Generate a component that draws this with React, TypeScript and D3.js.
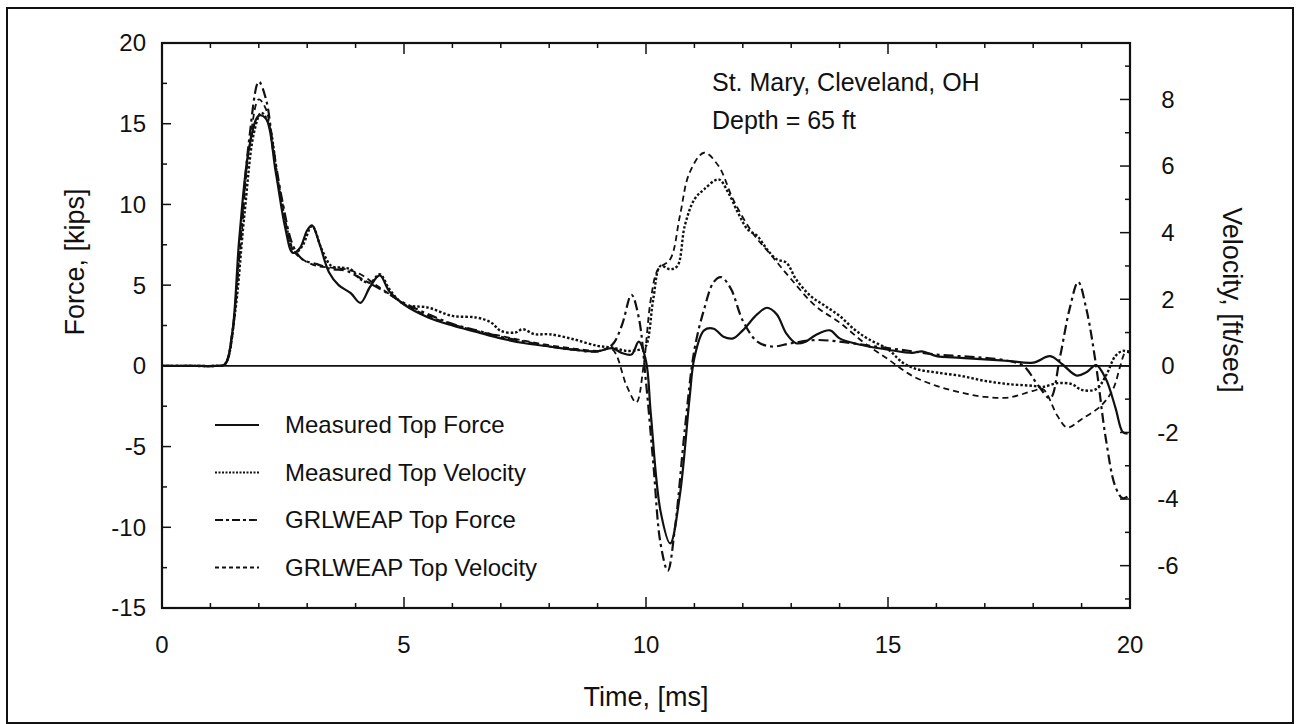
import React from "react";
import * as d3 from "d3";

// ---- data (time in ms; force in kips; velocity in ft/sec) ----
const timeTicks = [0, 5, 10, 15, 20];
const forceTicks = [-15, -10, -5, 0, 5, 10, 15, 20];
const velocityTicks = [-6, -4, -2, 0, 2, 4, 6, 8];

const measuredForce: [number, number][] = [
  [0, 0], [0.6, 0], [1.1, 0], [1.3, 0.1], [1.45, 2], [1.6, 8], [1.8, 13.5], [2.0, 15.5], [2.15, 15.3], [2.35, 12],
  [2.55, 8.5], [2.7, 7.0], [2.85, 7.3], [3.0, 8.4], [3.1, 8.7], [3.25, 7.6], [3.45, 5.8],
  [3.65, 5.0], [3.9, 4.5], [4.1, 3.9], [4.3, 4.9], [4.5, 5.6], [4.7, 4.6], [5.0, 3.8],
  [5.5, 3.0], [6.0, 2.5], [6.5, 2.1], [7.0, 1.7], [7.5, 1.4], [8.0, 1.2], [8.5, 1.0],
  [9.0, 0.9], [9.3, 1.1], [9.5, 0.8], [9.7, 0.7], [9.85, 1.5], [10.0, 0.3], [10.1, -3],
  [10.3, -9], [10.5, -11], [10.7, -8], [10.9, -2], [11.0, 0.5], [11.2, 2.2], [11.4, 2.3],
  [11.6, 1.8], [11.8, 1.7], [12.0, 2.2], [12.3, 3.2], [12.5, 3.6], [12.7, 3.2], [12.9, 2.0],
  [13.1, 1.4], [13.3, 1.5], [13.5, 1.9], [13.8, 2.2], [14.0, 1.7], [14.3, 1.4], [14.6, 1.2],
  [15.0, 1.0], [15.5, 0.8], [15.7, 0.9], [16.0, 0.6], [16.5, 0.5], [17.0, 0.4], [17.5, 0.3],
  [18.0, 0.2], [18.35, 0.6], [18.6, 0.1], [18.9, -0.6], [19.1, -0.4], [19.3, 0.05],
  [19.5, -0.8], [19.7, -2.6], [19.85, -4.1], [19.95, -4.2],
];

const grlweapForce: [number, number][] = [
  [0, 0], [0.6, 0], [1.1, 0], [1.3, 0.1], [1.45, 2], [1.6, 7], [1.8, 14], [2.0, 17.6], [2.15, 16.5], [2.3, 13.5],
  [2.5, 10], [2.7, 7.5], [2.9, 6.6], [3.2, 6.3], [3.5, 6.0], [3.8, 5.9], [4.0, 5.6],
  [4.3, 5.1], [4.6, 4.6], [5.0, 3.9], [5.5, 3.2], [6.0, 2.6], [6.5, 2.2], [7.0, 1.8],
  [7.5, 1.5], [8.0, 1.2], [8.5, 1.0], [9.0, 0.9], [9.3, 1.3], [9.5, 2.5], [9.7, 4.4],
  [9.85, 3.0], [10.0, -1], [10.15, -6], [10.3, -11], [10.45, -12.7], [10.6, -10],
  [10.8, -4], [11.0, 1.0], [11.2, 3.5], [11.4, 5.2], [11.55, 5.5], [11.75, 4.8], [12.0, 2.8],
  [12.3, 1.5], [12.6, 1.2], [13.0, 1.4], [13.5, 1.6], [14.0, 1.5], [14.5, 1.3], [15.0, 1.1],
  [15.5, 0.9], [16.0, 0.7], [16.5, 0.6], [17.0, 0.5], [17.5, 0.3], [17.8, 0], [18.1, -1.2],
  [18.35, -2.0], [18.55, 0.5], [18.75, 3.5], [18.93, 5.2], [19.1, 3.5], [19.3, 0],
  [19.5, -4.5], [19.7, -7.5], [19.85, -8.2], [20.0, -8.0],
];

const measuredVelocity: [number, number][] = [
  [0, 0], [0.6, 0], [1.1, 0], [1.3, 0.05], [1.5, 1.5], [1.7, 4.5], [1.9, 7.0], [2.05, 7.6], [2.2, 7.3], [2.4, 5.5],
  [2.6, 4.0], [2.75, 3.4], [2.9, 3.6], [3.1, 4.2], [3.3, 3.5], [3.5, 3.0], [3.7, 2.95],
  [3.9, 2.9], [4.1, 2.6], [4.3, 2.5], [4.5, 2.75], [4.7, 2.3], [5.0, 1.85], [5.5, 1.75],
  [6.0, 1.5], [6.5, 1.45], [6.8, 1.3], [7.0, 1.05], [7.3, 1.0], [7.45, 1.1], [7.7, 0.95],
  [8.0, 0.95], [8.5, 0.8], [9.0, 0.6], [9.3, 0.55], [9.6, 0.45], [9.9, 0.5], [10.0, 0.6],
  [10.15, 2.0], [10.3, 3.0], [10.5, 2.9], [10.65, 3.0], [10.8, 4.2], [11.0, 5.0], [11.2, 5.3],
  [11.5, 5.6], [11.7, 5.2], [11.9, 4.6], [12.1, 4.1], [12.3, 3.9], [12.5, 3.5], [12.7, 3.2],
  [12.9, 3.1], [13.1, 2.6], [13.4, 2.1], [13.7, 1.8], [14.0, 1.5], [14.3, 1.1], [14.6, 0.8],
  [15.0, 0.5], [15.3, 0.1], [15.6, -0.1], [16.0, -0.2], [16.5, -0.3], [17.0, -0.45],
  [17.5, -0.55], [18.0, -0.6], [18.2, -0.63], [18.5, -0.52], [18.8, -0.55], [19.0, -0.72],
  [19.3, -0.7], [19.5, -0.3], [19.7, 0.3], [19.85, 0.45], [20.0, 0.4],
];

const grlweapVelocity: [number, number][] = [
  [0, 0], [0.6, 0], [1.1, 0], [1.3, 0.05], [1.6, 3.3], [1.8, 6.5], [2.0, 8.0], [2.15, 7.7], [2.3, 6.4], [2.5, 4.8],
  [2.7, 3.5], [2.9, 3.2], [3.2, 3.0], [3.5, 2.95], [3.8, 2.9], [4.1, 2.75], [4.4, 2.45],
  [4.7, 2.15], [5.0, 1.85], [5.5, 1.5], [6.0, 1.25], [6.5, 1.05], [7.0, 0.9], [7.5, 0.75],
  [8.0, 0.62], [8.5, 0.52], [9.0, 0.45], [9.3, 0.5], [9.6, -0.6], [9.8, -1.1], [9.95, 0],
  [10.1, 2.0], [10.25, 2.9], [10.5, 3.2], [10.7, 4.5], [10.9, 5.8], [11.2, 6.4], [11.5, 6.0],
  [11.8, 5.0], [12.2, 4.0], [12.6, 3.3], [13.0, 2.6], [13.5, 1.8], [14.0, 1.3], [14.5, 0.7],
  [15.0, 0.2], [15.5, -0.3], [16.0, -0.6], [16.5, -0.8], [17.0, -0.93], [17.5, -0.95],
  [18.0, -0.75], [18.2, -0.7], [18.5, -1.5], [18.7, -1.85], [19.0, -1.6], [19.4, -1.2],
  [19.65, -0.7], [19.8, 0], [19.9, 0.4], [20.0, 0.45],
];

const legendLabels = [
  "Measured Top Force",
  "Measured Top Velocity",
  "GRLWEAP Top Force",
  "GRLWEAP Top Velocity",
];
const annotationLines = ["St. Mary, Cleveland, OH", "Depth = 65 ft"];

// ---- layout ----
const W = 1296;
const H = 724;
const L = 162, R = 1130, T = 43, B = 608;
const FONT = "'Liberation Sans', Arial, Helvetica, sans-serif";

const x = d3.scaleLinear().domain([0, 20]).range([L, R]);
const yF = d3.scaleLinear().domain([-15, 20]).range([B, T]);
const vPerF = (B - T) / 35 / 33.3;
const yV = d3
  .scaleLinear()
  .domain([-15 * vPerF, 20 * vPerF])
  .range([B, T]);

const dashes = ["none", "2.5,2", "10,4,3,4", "6,4"];

export default function App() {
  const forceLine = d3
    .line<[number, number]>()
    .x((d) => x(d[0]))
    .y((d) => yF(d[1]))
    .curve(d3.curveCatmullRom.alpha(0.5));
  const velLine = d3
    .line<[number, number]>()
    .x((d) => x(d[0]))
    .y((d) => yV(d[1]))
    .curve(d3.curveCatmullRom.alpha(0.5));

  const series = [
    { d: forceLine(measuredForce), dash: dashes[0], w: 2.2 },
    { d: velLine(measuredVelocity), dash: dashes[1], w: 2.4 },
    { d: forceLine(grlweapForce), dash: dashes[2], w: 2.2 },
    { d: velLine(grlweapVelocity), dash: dashes[3], w: 1.8 },
  ];

  const xMinor = d3.range(0, 21, 1);
  const fMinor = d3.range(-15, 20.01, 2.5);
  const vMinor = d3.range(-7, 10, 1);

  return (
    <svg
      width={W}
      height={H}
      style={{ position: "absolute", left: 0, top: 0, background: "#fff" }}
      fontFamily={FONT}
    >
      <rect x={0} y={0} width={W} height={H} fill="#fff" />
      <rect x={7} y={8} width={1286} height={715} fill="none" stroke="#111" strokeWidth={2} />

      <defs>
        <clipPath id="plotClip">
          <rect x={L} y={T} width={R - L} height={B - T} />
        </clipPath>
      </defs>

      <line x1={L} x2={R} y1={yF(0)} y2={yF(0)} stroke="#111" strokeWidth={1.6} />

      <g clipPath="url(#plotClip)" fill="none" stroke="#111" strokeLinejoin="round">
        {series.map((s, i) => (
          <path key={i} d={s.d || ""} strokeDasharray={s.dash} strokeWidth={s.w} />
        ))}
      </g>

      <rect x={L} y={T} width={R - L} height={B - T} fill="none" stroke="#111" strokeWidth={2.2} />

      {xMinor.map((t) => {
        const major = t % 5 === 0;
        const len = major ? 11 : 5;
        return (
          <g key={"xt" + t} stroke="#111" strokeWidth={1.5}>
            <line x1={x(t)} x2={x(t)} y1={B} y2={B - len} />
            <line x1={x(t)} x2={x(t)} y1={T} y2={T + len} />
          </g>
        );
      })}
      {fMinor.map((f) => {
        const major = f % 5 === 0;
        const len = major ? 9 : 5;
        return (
          <line key={"ft" + f} x1={L} x2={L + len} y1={yF(f)} y2={yF(f)} stroke="#111" strokeWidth={1.5} />
        );
      })}
      {vMinor.map((v) => {
        const major = v % 2 === 0;
        const len = major ? 10 : 5;
        return (
          <line key={"vt" + v} x1={R} x2={R - len} y1={yV(v)} y2={yV(v)} stroke="#111" strokeWidth={1.5} />
        );
      })}

      {timeTicks.map((t) => (
        <text key={"xl" + t} x={x(t)} y={645} dy="0.35em" textAnchor="middle" fontSize={24} fill="#111">
          {t}
        </text>
      ))}
      {forceTicks.map((f) => (
        <text key={"fl" + f} x={146} y={yF(f)} dy="0.35em" textAnchor="end" fontSize={24} fill="#111">
          {f}
        </text>
      ))}
      {velocityTicks.map((v) => (
        <text key={"vl" + v} x={1168} y={yV(v)} dy="0.35em" textAnchor="middle" fontSize={24} fill="#111">
          {v}
        </text>
      ))}

      <text x={646} y={697} dy="0.35em" textAnchor="middle" fontSize={27} fill="#111">
        Time, [ms]
      </text>
      <text transform={`translate(75,262) rotate(-90)`} dy="0.35em" textAnchor="middle" fontSize={27} fill="#111">
        Force, [kips]
      </text>
      <text transform={`translate(1232,300) rotate(90)`} dy="0.35em" textAnchor="middle" fontSize={27} fill="#111">
        Velocity, [ft/sec]
      </text>

      {annotationLines.map((s, i) => (
        <text key={s} x={712} y={82 + i * 38} dy="0.35em" fontSize={25} fill="#111">
          {s}
        </text>
      ))}

      {legendLabels.map((s, i) => {
        const yy = 425 + i * 47.5;
        return (
          <g key={s}>
            <line
              x1={215}
              x2={259}
              y1={yy}
              y2={yy}
              stroke="#111"
              strokeWidth={i === 1 ? 2.2 : 1.8}
              strokeDasharray={i === 0 ? "none" : i === 1 ? "2,1.5" : i === 2 ? "8,3,3,3" : "4,3"}
            />
            <text x={285} y={yy} dy="0.35em" fontSize={24} fill="#111">
              {s}
            </text>
          </g>
        );
      })}
    </svg>
  );
}
